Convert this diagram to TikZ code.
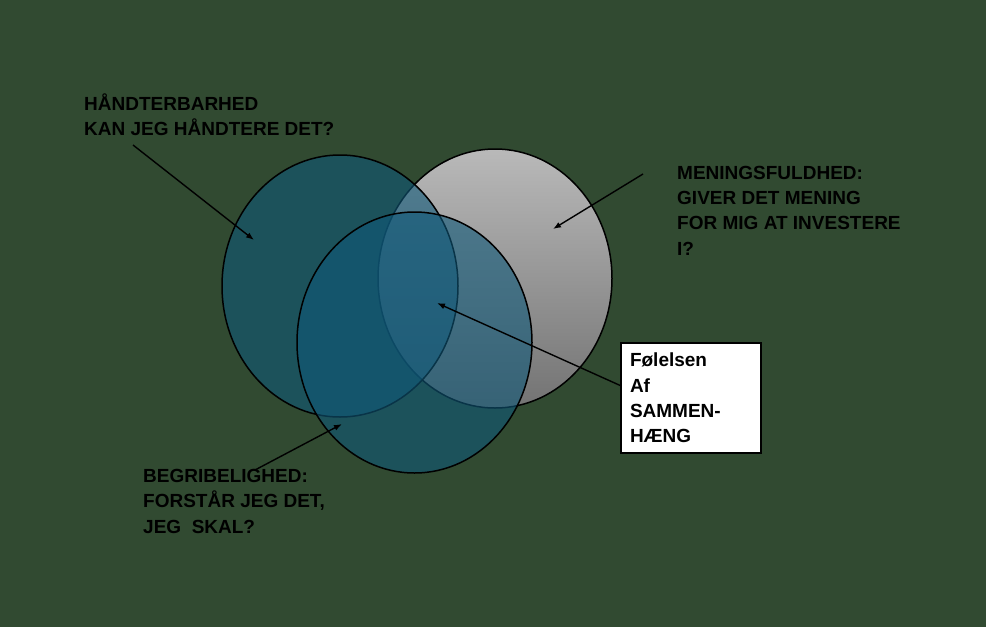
\documentclass[tikz,border=0pt]{standalone}
\usepackage{fontspec}
\setmainfont{Liberation Sans}
\usetikzlibrary{shapes.geometric,arrows.meta}
\definecolor{bggreen}{RGB}{49,74,49}
\definecolor{circteal}{RGB}{15,88,120}
\definecolor{graytop}{RGB}{185,185,185}
\definecolor{graybot}{RGB}{115,115,115}
\begin{document}
\begin{tikzpicture}[x=1pt,y=-1pt,
  circ/.style={ellipse,draw=black,line width=1.5pt,inner sep=0pt},
  lbl/.style={align=left,inner sep=0pt,anchor=base west,
    font=\bfseries\fontsize{19}{25.3}\selectfont},
  pil/.style={-{Latex[length=8pt,width=6pt]},line width=1.4pt}]
  \fill[bggreen] (0,0) rectangle (986,627);
  \useasboundingbox (0,0) rectangle (986,627);

  \node[circ,top color=graytop,bottom color=graybot,
    minimum width=234pt,minimum height=259pt] (Mening) at (495,278.5) {};
  \node[circ,fill=circteal,fill opacity=0.6,
    minimum width=236pt,minimum height=262pt] (Haand) at (340,286) {};
  \node[circ,fill=circteal,fill opacity=0.6,
    minimum width=235pt,minimum height=261pt] (Begreb) at (414.5,342.5) {};

  \node[lbl] (HaandTxt) at (84,135.5) {HÅNDTERBARHED\\KAN JEG HÅNDTERE DET?};
  \node[lbl] (MeningTxt) at (677,255) {MENINGSFULDHED:\\GIVER DET MENING\\FOR MIG AT INVESTERE\\I?};
  \node[lbl] (BegrebTxt) at (143,533) {BEGRIBELIGHED:\\FORSTÅR JEG DET,\\JEG\ \ SKAL?};

  \node[draw=black,fill=white,line width=1.4pt,align=left,
    text width=122pt,inner xsep=9pt,inner ysep=0pt,minimum height=110pt,
    font=\bfseries\fontsize{19}{25.3}\selectfont]
    (Sammen) at (691,398) {Følelsen\\Af\\SAMMEN-\\HÆNG};

  \coordinate (HaandFra) at (133,145);
  \coordinate (HaandTil) at (254,240);
  \coordinate (MeningFra) at (643,174);
  \coordinate (MeningTil) at (553,229);
  \coordinate (SammenTil) at (437,303);
  \coordinate (BegrebFra) at (255,470);
  \coordinate (BegrebTil) at (342,424);

  \draw[pil] (HaandFra) to (HaandTil);
  \draw[pil] (MeningFra) to (MeningTil);
  \draw[pil] (Sammen.170) to (SammenTil);
  \draw[pil] (BegrebFra) to (BegrebTil);
\end{tikzpicture}
\end{document}
